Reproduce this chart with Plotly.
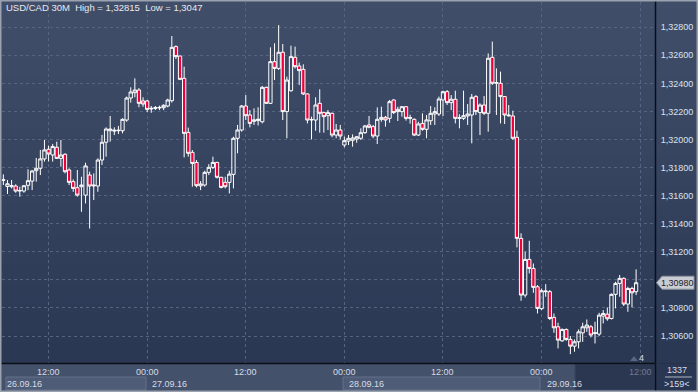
import plotly.graph_objects as go
import pandas as pd

# ---------------- data ----------------
START = "2016-09-26 06:30"
N_BARS = 155
times = pd.date_range(START, periods=N_BARS, freq="30min")

opens = [1.31714,1.31666,1.31664,1.31669,1.31633,1.31633,1.31674,1.31704,1.31778,1.31795,
         1.31862,1.31931,1.31890,1.31945,1.31866,1.31895,1.31783,1.31700,1.31657,1.31664,
         1.31604,1.31747,1.31669,1.31669,1.31854,1.31981,1.32063,1.32060,1.32063,1.32063,
         1.32139,1.32296,1.32334,1.32353,1.32275,1.32275,1.32218,1.32222,1.32225,1.32227,
         1.32239,1.32277,1.32662,1.32595,1.32436,1.32051,1.31909,1.31837,1.31670,1.31676,
         1.31766,1.31802,1.31837,1.31731,1.31695,1.31695,1.31752,1.32009,1.32068,1.32239,
         1.32175,1.32130,1.32135,1.32127,1.32372,1.32258,1.32555,1.32507,1.32622,1.32199,
         1.32348,1.32586,1.32524,1.32500,1.32325,1.32139,1.32139,1.32258,1.32192,1.32170,
         1.32187,1.32032,1.32068,1.31961,1.31989,1.31995,1.32004,1.32009,1.32049,1.32104,
         1.32092,1.32025,1.32144,1.32158,1.32151,1.32282,1.32199,1.32199,1.32234,1.32151,
         1.32144,1.32032,1.32115,1.32073,1.32134,1.32182,1.32182,1.32282,1.32341,1.32263,
         1.32287,1.32151,1.32151,1.32168,1.32175,1.32306,1.32192,1.32246,1.32187,1.32586,
         1.32401,1.32401,1.32306,1.32175,1.32168,1.32016,1.31296,1.30892,1.31146,1.31082,
         1.30951,1.30795,1.30916,1.30916,1.30733,1.30666,1.30566,1.30647,1.30576,1.30528,
         1.30559,1.30623,1.30659,1.30666,1.30619,1.30614,1.30742,1.30756,1.30725,1.30897,
         1.30975,1.31011,1.30828,1.30939,1.30916]
highs = [1.31752,1.31712,1.31712,1.31681,1.31664,1.31676,1.31788,1.31783,1.31869,1.31926,
         1.31997,1.31957,1.31969,1.31985,1.31997,1.31902,1.31795,1.31716,1.31783,1.31735,
         1.31835,1.31771,1.31759,1.31866,1.32033,1.32087,1.32168,1.32087,1.32097,1.32151,
         1.32306,1.32372,1.32436,1.32367,1.32301,1.32282,1.32239,1.32239,1.32241,1.32251,
         1.32291,1.32738,1.32671,1.32598,1.32519,1.32085,1.31925,1.31854,1.31704,1.31778,
         1.31825,1.31878,1.31842,1.31735,1.31735,1.31778,1.32020,1.32104,1.32246,1.32317,
         1.32210,1.32222,1.32230,1.32382,1.32377,1.32657,1.32686,1.32815,1.32681,1.32448,
         1.32669,1.32662,1.32548,1.32536,1.32329,1.32163,1.32301,1.32358,1.32199,1.32211,
         1.32192,1.32111,1.32104,1.32021,1.32032,1.32037,1.32025,1.32080,1.32104,1.32168,
         1.32104,1.32229,1.32234,1.32168,1.32282,1.32287,1.32234,1.32239,1.32239,1.32177,
         1.32151,1.32127,1.32187,1.32175,1.32239,1.32230,1.32306,1.32348,1.32353,1.32317,
         1.32348,1.32180,1.32348,1.32253,1.32325,1.32317,1.32258,1.32310,1.32614,1.32698,
         1.32507,1.32484,1.32310,1.32246,1.32206,1.32063,1.31332,1.31201,1.31279,1.31117,
         1.30963,1.30939,1.30970,1.30928,1.30761,1.30695,1.30654,1.30654,1.30600,1.30576,
         1.30647,1.30695,1.30718,1.30678,1.30702,1.30766,1.30785,1.30804,1.30904,1.30987,
         1.31035,1.31018,1.30951,1.30951,1.31075]
lows = [1.31676,1.31612,1.31652,1.31621,1.31593,1.31621,1.31640,1.31640,1.31700,1.31747,
        1.31843,1.31843,1.31843,1.31862,1.31807,1.31759,1.31676,1.31628,1.31593,1.31485,
        1.31545,1.31366,1.31569,1.31628,1.31819,1.31878,1.31985,1.32032,1.32040,1.32044,
        1.32127,1.32263,1.32301,1.32230,1.32234,1.32196,1.32191,1.32210,1.32210,1.32210,
        1.32230,1.32263,1.32574,1.32424,1.31873,1.31878,1.31664,1.31659,1.31640,1.31664,
        1.31747,1.31790,1.31723,1.31652,1.31652,1.31616,1.31652,1.31902,1.32056,1.32139,
        1.32087,1.32104,1.32100,1.32115,1.32253,1.32253,1.32424,1.32496,1.32139,1.32009,
        1.32341,1.32507,1.32389,1.32317,1.32115,1.32001,1.32063,1.32049,1.32049,1.32068,
        1.32016,1.32009,1.32001,1.31944,1.31961,1.31949,1.31977,1.31997,1.32040,1.32080,
        1.32009,1.31968,1.32127,1.32092,1.32120,1.32182,1.32132,1.32163,1.32135,1.32113,
        1.32025,1.32025,1.32063,1.32009,1.32104,1.32104,1.32168,1.32168,1.32246,1.32210,
        1.32115,1.32080,1.32139,1.32104,1.31973,1.32175,1.32032,1.32175,1.32056,1.32389,
        1.32175,1.32115,1.32111,1.32163,1.31997,1.31232,1.30851,1.30875,1.31046,1.30908,
        1.30761,1.30785,1.30880,1.30714,1.30623,1.30512,1.30559,1.30566,1.30471,1.30488,
        1.30512,1.30559,1.30630,1.30590,1.30547,1.30600,1.30690,1.30709,1.30718,1.30797,
        1.30880,1.30814,1.30773,1.30804,1.30892]
closes = [1.31710,1.31685,1.31671,1.31633,1.31637,1.31671,1.31707,1.31776,1.31795,1.31862,
          1.31926,1.31897,1.31950,1.31866,1.31890,1.31771,1.31695,1.31652,1.31604,1.31676,
          1.31812,1.31669,1.31675,1.31854,1.31981,1.32075,1.32075,1.32066,1.32066,1.32144,
          1.32296,1.32339,1.32353,1.32258,1.32253,1.32215,1.32222,1.32227,1.32229,1.32244,
          1.32282,1.32657,1.32591,1.32429,1.32044,1.31902,1.31830,1.31671,1.31683,1.31766,
          1.31802,1.31837,1.31731,1.31659,1.31664,1.31754,1.32009,1.32068,1.32239,1.32170,
          1.32115,1.32140,1.32145,1.32372,1.32258,1.32555,1.32507,1.32622,1.32199,1.32424,
          1.32591,1.32519,1.32491,1.32325,1.32139,1.32143,1.32246,1.32187,1.32163,1.32192,
          1.32032,1.32068,1.32025,1.31992,1.32009,1.32011,1.32020,1.32049,1.32097,1.32087,
          1.32025,1.32144,1.32158,1.32139,1.32270,1.32192,1.32215,1.32234,1.32151,1.32156,
          1.32032,1.32111,1.32073,1.32140,1.32187,1.32199,1.32289,1.32341,1.32263,1.32287,
          1.32151,1.32155,1.32170,1.32182,1.32301,1.32199,1.32246,1.32187,1.32579,1.32401,
          1.32406,1.32306,1.32175,1.32170,1.32009,1.31296,1.30892,1.31146,1.31082,1.30947,
          1.30797,1.30923,1.30920,1.30725,1.30659,1.30571,1.30647,1.30576,1.30528,1.30559,
          1.30630,1.30666,1.30678,1.30607,1.30623,1.30749,1.30761,1.30723,1.30897,1.30975,
          1.31011,1.30828,1.30939,1.30908,1.30980]

y_ticks = [1.306, 1.308, 1.310, 1.312, 1.314, 1.316, 1.318, 1.320, 1.322, 1.324, 1.326, 1.328]
y_tick_labels = ["1,30600", "1,30800", "", "1,31200", "1,31400", "1,31600", "1,31800",
                 "1,32000", "1,32200", "1,32400", "1,32600", "1,32800"]
grid_times = ["2016-09-26 12:00", "2016-09-27 00:00", "2016-09-27 12:00", "2016-09-28 00:00",
              "2016-09-28 12:00", "2016-09-29 00:00", "2016-09-29 12:00"]
time_labels = ["12:00", "00:00", "12:00", "00:00", "12:00", "00:00", "12:00"]
date_labels = ["26.09.16", "27.09.16", "28.09.16", "29.09.16"]
date_starts = ["2016-09-26 06:20", "2016-09-27 00:00", "2016-09-28 00:00", "2016-09-29 00:00"]
title_text = "USD/CAD 30M  High = 1,32815  Low = 1,3047"
last_price_text = "1,30980"
last_price = 1.3098
X_RANGE = ["2016-09-26 06:20", "2016-09-29 13:48"]
Y_RANGE = [1.30408, 1.32980]

# ---------------- geometry helpers (pixels -> paper) ----------------
W, H = 698, 392
L_, R_, T_, B_ = 2, 43, 2, 29
PW, PH = W - L_ - R_, H - T_ - B_


def xp(px):
    return (px - L_) / PW


def yp(py):
    return (H - B_ - py) / PH


FONT = "Liberation Sans, Arial, sans-serif"
TXT = "#dde2ea"

fig = go.Figure()
fig.add_trace(go.Candlestick(
    x=times, open=opens, high=highs, low=lows, close=closes,
    increasing=dict(line=dict(color="#ffffff", width=1), fillcolor="rgba(0,0,0,0)"),
    decreasing=dict(line=dict(color="#ffffff", width=1), fillcolor="#f0003a"),
    whiskerwidth=0, hoverinfo="skip", showlegend=False,
))

shapes = []
# background gradient stripes (whole image)
NS = 40
top_c = (65, 78, 106)
bot_c = (41, 54, 82)
for k in range(NS):
    t = k / (NS - 1)
    c = tuple(round(top_c[j] + (bot_c[j] - top_c[j]) * t) for j in range(3))
    y0 = H * k / NS
    y1 = H * (k + 1) / NS + 0.6
    shapes.append(dict(type="rect", xref="paper", yref="paper", layer="below",
                       x0=xp(0), x1=xp(W), y0=yp(y1), y1=yp(y0),
                       fillcolor="rgb(%d,%d,%d)" % c, line=dict(width=0)))

# bottom time strip
shapes.append(dict(type="rect", xref="paper", yref="paper", layer="below",
                   x0=xp(0), x1=xp(655), y0=yp(H), y1=yp(363),
                   fillcolor="#44516b", line=dict(width=0)))
# date boxes (alternating)
for x0p, x1p in [(6, 146), (343, 540)]:
    shapes.append(dict(type="rect", xref="paper", yref="paper", layer="below",
                       x0=xp(x0p), x1=xp(x1p), y0=yp(390), y1=yp(377),
                       fillcolor="#4f5c77", line=dict(color="#65718b", width=1)))
# future overlay on strip
shapes.append(dict(type="rect", xref="paper", yref="paper", layer="above",
                   x0=xp(575), x1=xp(655), y0=yp(390), y1=yp(364),
                   fillcolor="rgba(35,46,72,0.75)", line=dict(color="#3b4762", width=1)))
# separators
shapes.append(dict(type="line", xref="paper", yref="paper", layer="above",
                   x0=xp(655.5), x1=xp(655.5), y0=yp(H), y1=yp(0),
                   line=dict(color="#0b0e14", width=1.5)))
shapes.append(dict(type="line", xref="paper", yref="paper", layer="above",
                   x0=xp(0), x1=xp(655.5), y0=yp(363.5), y1=yp(363.5),
                   line=dict(color="#0b0e14", width=1.5)))
shapes.append(dict(type="line", xref="paper", yref="paper", layer="above",
                   x0=xp(655.5), x1=xp(W), y0=yp(363.5), y1=yp(363.5),
                   line=dict(color="#27324a", width=1)))
shapes.append(dict(type="line", xref="paper", yref="paper", layer="above",
                   x0=xp(665), x1=xp(692), y0=yp(377), y1=yp(377),
                   line=dict(color="#aeb5c2", width=1)))
# small marker triangle near bottom right
shapes.append(dict(type="path", xref="paper", yref="paper", layer="above",
                   path="M %f %f L %f %f L %f %f Z" % (xp(630), yp(361), xp(634), yp(356), xp(638), yp(361)),
                   fillcolor="#59667f", line=dict(width=0)))
# last price tag
shapes.append(dict(type="path", xref="paper", yref="y", layer="above",
                   path="M %f %f L %f %f L %f %f L %f %f L %f %f Z" % (
                       xp(656.5), last_price,
                       xp(662), last_price + 0.00046,
                       xp(694), last_price + 0.00046,
                       xp(694), last_price - 0.00046,
                       xp(662), last_price - 0.00046),
                   fillcolor="#c9cdd3", line=dict(color="#8e95a1", width=1)))
# outer frame
shapes.append(dict(type="rect", xref="paper", yref="paper", layer="above",
                   x0=xp(0.75), x1=xp(W - 0.75), y0=yp(H - 0.75), y1=yp(0.75),
                   line=dict(color="#9aa2b0", width=1.5), fillcolor="rgba(0,0,0,0)"))

annotations = []
annotations.append(dict(text=title_text, xref="paper", yref="paper", x=xp(4), y=yp(8),
                        xanchor="left", yanchor="middle", showarrow=False,
                        font=dict(family=FONT, size=9.5, color="#e6e9ef")))
for t, lab in zip(grid_times, time_labels):
    col = "#6f7b93" if t == grid_times[-1] else "#d6dce6"
    annotations.append(dict(text=lab, xref="x", yref="paper", x=t, y=yp(371.5),
                            xanchor="center", yanchor="middle", showarrow=False,
                            font=dict(family=FONT, size=9, color=col)))
for t, lab in zip(date_starts, date_labels):
    annotations.append(dict(text=lab, xref="x", yref="paper", x=t, y=yp(383.5),
                            xanchor="left", yanchor="middle", showarrow=False, xshift=3,
                            font=dict(family=FONT, size=9, color="#d6dce6")))
annotations.append(dict(text=last_price_text, xref="paper", yref="y", x=xp(677), y=last_price,
                        xanchor="center", yanchor="middle", showarrow=False,
                        font=dict(family=FONT, size=9, color="#1d2027")))
annotations.append(dict(text="4", xref="paper", yref="paper", x=xp(641.5), y=yp(357.5),
                        xanchor="center", yanchor="middle", showarrow=False,
                        font=dict(family=FONT, size=9, color="#d6dce6")))
annotations.append(dict(text="1337", xref="paper", yref="paper", x=xp(677.5), y=yp(370),
                        xanchor="center", yanchor="middle", showarrow=False,
                        font=dict(family=FONT, size=9, color="#d6dce6")))
annotations.append(dict(text="&gt;159&lt;", xref="paper", yref="paper", x=xp(677.5), y=yp(383.5),
                        xanchor="center", yanchor="middle", showarrow=False,
                        font=dict(family=FONT, size=9, color="#d6dce6")))

fig.update_layout(
    width=W, height=H,
    margin=dict(l=L_, r=R_, t=T_, b=B_, pad=0),
    paper_bgcolor="#36435f", plot_bgcolor="rgba(0,0,0,0)",
    separators=", ",
    boxgap=0.2, boxgroupgap=0,
    shapes=shapes, annotations=annotations,
    showlegend=False,
    xaxis=dict(type="date", range=X_RANGE, rangeslider=dict(visible=False),
               tickvals=grid_times, showticklabels=False, ticks="",
               showgrid=True, gridcolor="#566480", gridwidth=1, griddash="3px,3px",
               zeroline=False, showline=False, fixedrange=True),
    yaxis=dict(side="right", range=Y_RANGE, tickvals=y_ticks, ticktext=y_tick_labels,
               ticks="outside", ticklen=3, tickcolor="rgba(0,0,0,0)",
               tickfont=dict(family=FONT, size=9, color=TXT),
               showgrid=True, gridcolor="#566480", gridwidth=1, griddash="3px,3px",
               zeroline=False, showline=False, fixedrange=True),
)

fig.write_html("out.html")
